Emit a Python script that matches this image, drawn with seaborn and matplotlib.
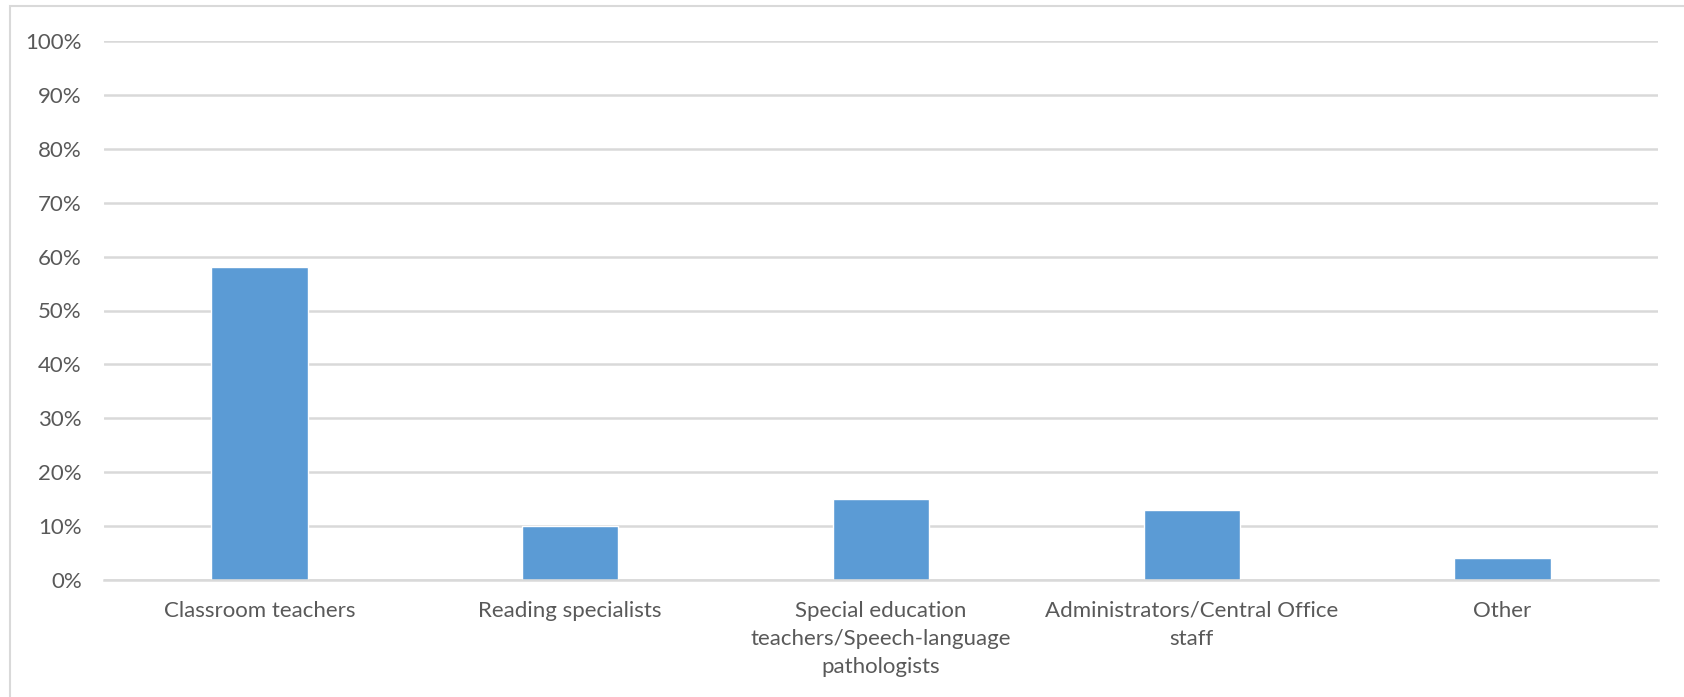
import matplotlib
matplotlib.use("Agg")
import matplotlib.pyplot as plt
import matplotlib.patches as mpatches
from matplotlib.ticker import PercentFormatter, MultipleLocator
import seaborn as sns
import pandas as pd

categories = [
    "Classroom teachers",
    "Reading specialists",
    "Special education\nteachers/Speech-language\npathologists",
    "Administrators/Central Office\nstaff",
    "Other",
]
shares = [58, 10, 15, 13, 4]

df = pd.DataFrame({"role": categories, "share": shares})

sns.set_theme(style="white")
plt.rcParams["font.family"] = ["Lato", "DejaVu Sans"]

text_grey = "#595959"
grid_grey = "#d9d9d9"
bar_blue = "#5b9bd5"

fig = plt.figure(figsize=(16.84, 6.97), dpi=100)
ax = fig.add_axes([104 / 1684, 117 / 697, (1658 - 104) / 1684, (580 - 41) / 697])

sns.barplot(data=df, x="role", y="share", color=bar_blue, width=0.31,
            saturation=1, ax=ax, zorder=3)

ax.set_ylim(0, 100)
ax.set_xlim(-0.5, len(categories) - 0.5)
ax.yaxis.set_major_locator(MultipleLocator(10))
ax.yaxis.set_major_formatter(PercentFormatter(decimals=0))
ax.grid(axis="y", color=grid_grey, linewidth=1.8, zorder=0)
ax.grid(axis="x", visible=False)
for side in ["top", "right", "left"]:
    ax.spines[side].set_visible(False)
ax.spines["bottom"].set_color(grid_grey)
ax.spines["bottom"].set_linewidth(1.8)
ax.spines["bottom"].set_zorder(4)

ax.set_xlabel("")
ax.set_ylabel("")
ax.tick_params(axis="y", length=0, pad=16, labelsize=16, labelcolor=text_grey)
ax.tick_params(axis="x", length=0, pad=15, labelsize=16, labelcolor=text_grey)
for lbl in ax.get_xticklabels():
    lbl.set_linespacing(1.5)

# outer chart frame
frame = mpatches.Rectangle((10 / 1684, -0.05), 1.0, (697 - 6) / 697 + 0.05,
                           transform=fig.transFigure, fill=False,
                           edgecolor=grid_grey, linewidth=1.5)
fig.patches.append(frame)

fig.savefig("out.png", dpi=100, facecolor="white")
